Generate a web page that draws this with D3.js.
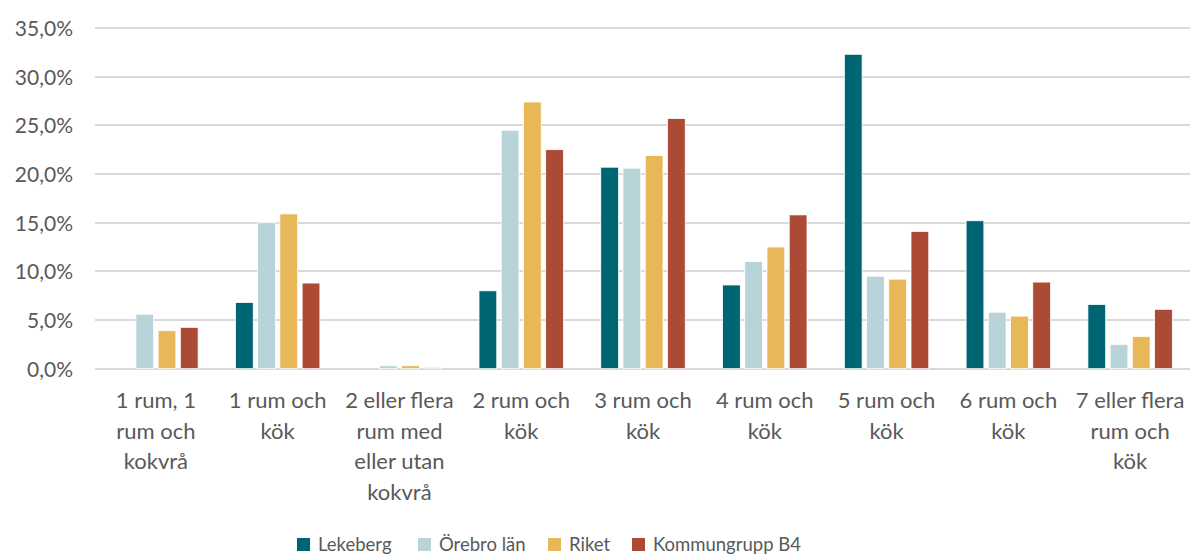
<!DOCTYPE html>
<html>
<head>
<meta charset="utf-8">
<title>Lägenhetsstorlek</title>
<style type="text/css">
body {
  margin: 0;
  background: #fff;
  font-family: Lato, "Open Sans", sans-serif;
}
.grid line {
  stroke: #d9d9d9;
  stroke-width: 2;
  shape-rendering: crispEdges;
}
.axis text {
  fill: #595959;
}
</style>
<script type="text/javascript" src="https://cdn.jsdelivr.net/npm/d3@7"></script>
</head>
<body>
<script>
var width = 1190;
var height = 557;

var categories = [
  ["1 rum, 1", "rum och", "kokvrå"],
  ["1 rum och", "kök"],
  ["2 eller flera", "rum med", "eller utan", "kokvrå"],
  ["2 rum och", "kök"],
  ["3 rum och", "kök"],
  ["4 rum och", "kök"],
  ["5 rum och", "kök"],
  ["6 rum och", "kök"],
  ["7 eller flera", "rum och", "kök"]
];
var seriesNames = ["Lekeberg", "Örebro län", "Riket", "Kommungrupp B4"];
var colors = ["#006573", "#b9d4d8", "#e8b858", "#ab4b35"];

// andel i procent, en array per serie
var lekeberg   = [0,   6.8,  0,   8.0, 20.7,  8.6, 32.3, 15.2, 6.6];
var orebroLan  = [5.6, 15.0, 0.3, 24.5, 20.6, 11.0, 9.5,  5.8, 2.5];
var riket      = [3.9, 15.9, 0.3, 27.4, 21.9, 12.5, 9.2,  5.4, 3.3];
var kommungrupp= [4.25, 8.8, 0.1, 22.5, 25.7, 15.8, 14.1, 8.9, 6.1];
var yTicks = [0, 5, 10, 15, 20, 25, 30, 35];

var values = [lekeberg, orebroLan, riket, kommungrupp];

var plotLeft = 95, plotRight = 1191, plotTop = 28, plotBottom = 368.7;

var svg = d3.select("body").append("svg")
  .attr("width", width).attr("height", height);

var x0 = d3.scaleBand()
  .domain(d3.range(categories.length))
  .range([plotLeft, plotRight])
  .paddingInner(0.27)
  .paddingOuter(0.135);

var x1 = d3.scaleBand()
  .domain(d3.range(seriesNames.length))
  .range([0, x0.bandwidth()])
  .paddingInner(0.2)
  .paddingOuter(0.1);

var y = d3.scaleLinear().domain([0, 35]).range([plotBottom, plotTop]);

// gridlines
svg.append("g").attr("class", "grid")
  .selectAll("line")
  .data(yTicks)
  .enter().append("line")
  .attr("x1", plotLeft).attr("x2", plotRight)
  .attr("y1", function(d) { return Math.round(y(d)); })
  .attr("y2", function(d) { return Math.round(y(d)); });

// y axis labels
var yAxis = svg.append("g").attr("class", "axis")
  .attr("transform", "translate(" + (plotLeft - 22) + ",0)")
  .call(d3.axisLeft(y).tickValues(yTicks).tickSize(0).tickPadding(0)
    .tickFormat(function(d) { return d3.format(".1f")(d).replace(".", ",") + "%"; }));
yAxis.select(".domain").remove();
yAxis.selectAll("text")
  .style("font-size", "21px")
  .style("font-family", "Lato, sans-serif")
  .attr("dy", "0.35em");

// bars
var groups = svg.selectAll(".cat")
  .data(categories)
  .enter().append("g")
  .attr("class", "cat")
  .attr("transform", function(d, i) { return "translate(" + x0(i) + ",0)"; });

groups.selectAll("rect")
  .data(function(d, i) { return values.map(function(v, s) { return {s: s, v: v[i]}; }); })
  .enter().append("rect")
  .filter(function(d) { return d.v > 0; })
  .attr("x", function(d) { return x1(d.s); })
  .attr("width", x1.bandwidth())
  .attr("y", function(d) { return y(d.v); })
  .attr("height", function(d) { return plotBottom - y(d.v); })
  .attr("fill", function(d) { return colors[d.s]; })
  .attr("stroke", "#fff")
  .attr("stroke-width", 0.8);

// x labels
groups.append("text")
  .attr("class", "axis")
  .attr("text-anchor", "middle")
  .attr("x", x0.bandwidth() / 2)
  .attr("y", 408)
  .style("font-size", "22px")
  .style("fill", "#595959")
  .selectAll("tspan")
  .data(function(d) { return d; })
  .enter().append("tspan")
  .attr("x", x0.bandwidth() / 2)
  .attr("dy", function(d, i) { return i === 0 ? 0 : 30.7; })
  .text(function(d) { return d; });

// legend
var legendX = [297, 418, 548, 632];
var legend = svg.selectAll(".legend")
  .data(seriesNames)
  .enter().append("g")
  .attr("class", "legend")
  .attr("transform", function(d, i) { return "translate(" + legendX[i] + ",545)"; });

legend.append("rect")
  .attr("x", 0).attr("y", -7)
  .attr("width", 13).attr("height", 13)
  .attr("fill", function(d, i) { return colors[i]; });

legend.append("text")
  .attr("x", 21).attr("y", 0)
  .attr("dy", "0.35em")
  .style("font-size", "18.5px")
  .style("fill", "#595959")
  .text(function(d) { return d; });
</script>
</body>
</html>
